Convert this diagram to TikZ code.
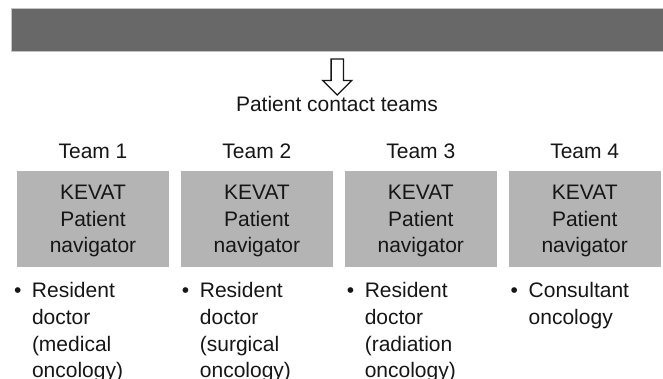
\documentclass[tikz,border=0pt]{standalone}
\usepackage{fontspec}
\setmainfont{Liberation Sans}
\usepackage{xcolor}
\usepackage{tikz}
\usetikzlibrary{positioning, shapes.arrows}

\definecolor{bargray}{HTML}{686868}
\definecolor{bartrim}{HTML}{C4C4C4}
\definecolor{boxgray}{HTML}{B4B4B4}
\definecolor{inkgray}{HTML}{161616}
\newcommand{\diagfont}{\fontsize{21pt}{26.7pt}\selectfont}
\newcommand{\bulletmark}{\makebox[18pt][l]{\textbullet}}
\newcommand{\bulletpad}{\hspace*{18pt}}

\begin{document}
\begin{tikzpicture}[
x=1pt, y=-1pt,
bar/.style={draw=bartrim, line width=0.8pt, fill=bargray, minimum width=653pt, minimum height=42.7pt, inner sep=0},
downarrow/.style={single arrow, draw=inkgray, line width=1.3pt, fill=white, rotate=-90, minimum height=36pt, minimum width=28pt, single arrow head extend=8.5pt, inner xsep=0, inner ysep=5.5pt},
navbox/.style={fill=boxgray, font=\diagfont, text=inkgray, minimum width=152pt, minimum height=95pt, align=center, text depth=0pt, inner sep=0},
teamlabel/.style={font=\diagfont, text=inkgray, inner sep=0},
members/.style={font=\diagfont, text=inkgray, align=left, inner sep=0},
node distance=11.5pt
]
\useasboundingbox (0,0) rectangle (663,379);

\node[bar] (bar) at (337.5,29.65) {};
\node[teamlabel, anchor=base] (contact) at (337,112) {Patient contact teams};
\path (bar.south) -- (contact.north) node[midway, downarrow] (push) {};

% navigator boxes
\node[navbox] (t1) at (93,219) {KEVAT\\Patient\\navigator};
\node[navbox, right=of t1] (t2) {KEVAT\\Patient\\navigator};
\node[navbox, right=of t2] (t3) {KEVAT\\Patient\\navigator};
\node[navbox, right=of t3] (t4) {KEVAT\\Patient\\navigator};

% team names
\node[teamlabel, above=12pt of t1] (l1) {Team 1};
\node[teamlabel, above=12pt of t2] (l2) {Team 2};
\node[teamlabel, above=12pt of t3] (l3) {Team 3};
\node[teamlabel, above=12pt of t4] (l4) {Team 4};

% team members
\node[members, below=15.5pt of t1.south west, anchor=north west, xshift=-3pt] (m1) {\bulletmark Resident\\\bulletpad doctor\\\bulletpad (medical\\\bulletpad oncology)};
\node[members, below=15.5pt of t2.south west, anchor=north west, xshift=1pt] (m2) {\bulletmark Resident\\\bulletpad doctor\\\bulletpad (surgical\\\bulletpad oncology)};
\node[members, below=15.5pt of t3.south west, anchor=north west, xshift=2pt] (m3) {\bulletmark Resident\\\bulletpad doctor\\\bulletpad (radiation\\\bulletpad oncology)};
\node[members, below=15.5pt of t4.south west, anchor=north west, xshift=2pt] (m4) {\bulletmark Consultant\\\bulletpad oncology};
\end{tikzpicture}
\end{document}
